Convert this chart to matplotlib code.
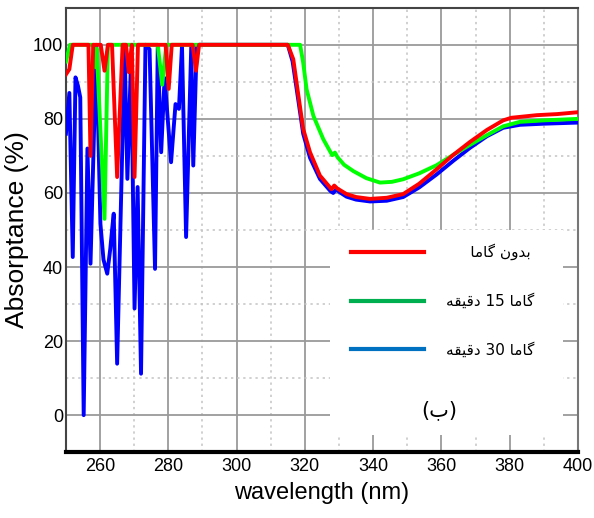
import numpy as np
import matplotlib.pyplot as plt
from matplotlib.lines import Line2D
from matplotlib.patches import Rectangle
from matplotlib.ticker import MultipleLocator

# Data
# -----------------------------------------------------------
# blue: gamma 30 min
wl_blue = [250, 251, 252, 252.8, 253.5, 254.2, 255.2, 256.3, 257.2, 258.9,
           260.1, 261, 262.1, 263, 263.5, 264, 265, 267.2, 268, 269.1,
           270.1, 271, 272, 273.3, 274.5, 276.1, 276.9, 277.9, 278.9, 280.8,
           282.1, 283.1, 284, 285.2, 286.7, 287.3, 288.3, 289, 315,
           316.4, 318, 319.5, 321.5, 324.4, 327.5, 328.3, 329.2, 330.2, 332.2,
           335, 339.1, 344, 348.8, 353.5, 358.6, 363.5, 368.4, 373.3, 378.1,
           383, 390, 400]
ab_blue = [76, 87, 42.7, 91.2, 89, 85.8, 0, 72, 40.9, 100,
           51.7, 42, 38.2, 45, 49.9, 54.4, 13.9, 99, 63.8, 96.6,
           28.8, 61.6, 11.2, 100, 98.8, 39.5, 99.3, 71, 91, 68.3,
           84, 82.7, 99.7, 48.1, 99.3, 67.4, 99.7, 100, 100,
           95.5, 85.5, 76, 69.5, 63.8, 60.5, 60, 61, 60.2, 59,
           58.2, 57.7, 57.9, 58.9, 61.5, 65, 68.7, 72.2, 75.3, 77.6,
           78.4, 78.7, 79]

# green: gamma 15 min
wl_green = [250, 251.2, 258, 258.4, 259, 261.3, 262.3, 276.9, 278.2, 279.4,
            318.6, 319.5, 320.5, 322.5, 325.4, 328, 328.8, 329.6, 331.5, 334.2,
            338, 342, 345.5, 348.8, 353.5, 358.6, 363.5, 368.4, 373.3, 378.1,
            383, 390, 400]
ab_green = [95.5, 100, 100, 94, 99, 53, 100, 100, 89.2, 100,
            100, 95.2, 88, 80.8, 74.5, 70.2, 70.9, 69.6, 67.6, 65.9,
            64, 62.8, 63, 63.7, 65.3, 67.5, 70.3, 73.0, 75.6, 78.0,
            79.2, 79.6, 80]

# red: no gamma
wl_red = [250, 251, 252, 256.6, 257.2, 258, 260.2, 261.3, 262.3, 263.5,
          265, 266.6, 267.6, 268.4, 269.3, 270.1, 271.1, 279.2, 280.1, 281,
          287.1, 288.1, 289, 315, 316.6, 318.1, 319.5, 321.5, 324.4, 327.8,
          328.6, 329.5, 332.2, 335, 339.1, 344, 348.8, 353.5, 358.6, 363.5,
          368.4, 373.3, 378.1, 380.5, 387.9, 394, 400]
ab_red = [92, 93.4, 100, 100, 70, 100, 100, 93, 100, 100,
          64.3, 100, 100, 92.6, 100, 64.3, 100, 100, 88.1, 100,
          100, 93, 100, 100, 96.1, 86.3, 77.3, 71, 64.7, 61,
          62, 61.2, 59.7, 58.9, 58.4, 58.7, 59.7, 62.5, 66.4, 70.3,
          73.8, 77, 79.6, 80.3, 81, 81.3, 81.8]

# legend labels (Persian, written in visual order with presentation forms)
# logical text: "بدون گاما", "گاما 15 دقیقه", "گاما 30 دقیقه", "(ب)"
lab_none = "\uFE8E\uFEE3\uFE8E\uFB94 \uFEE5\uFEED\uFEAA\uFE91"
lab_15 = "\uFEEA\uFED8\uFEF4\uFED7\uFEA9 15 \uFE8E\uFEE3\uFE8E\uFB94"
lab_30 = "\uFEEA\uFED8\uFEF4\uFED7\uFEA9 30 \uFE8E\uFEE3\uFE8E\uFB94"
panel = "(\uFE8F)"

x_ticks = [260, 280, 300, 320, 340, 360, 380, 400]
y_ticks = [0, 20, 40, 60, 80, 100]

# Plot
# -----------------------------------------------------------
fig = plt.figure(figsize=(5.94, 5.18), dpi=100)
ax = fig.add_axes([0.111, 0.127, 0.862, 0.858])

ax.plot(wl_blue, ab_blue, color='#0000ff', lw=2.8, zorder=3)
ax.plot(wl_green, ab_green, color='#00ff00', lw=2.8, zorder=4)
ax.plot(wl_red, ab_red, color='#ff0000', lw=2.8, zorder=5)

ax.set_xlim(250, 400)
ax.set_ylim(-10, 110)
ax.set_xticks(x_ticks)
ax.set_yticks(y_ticks)
ax.xaxis.set_minor_locator(MultipleLocator(10))
ax.yaxis.set_minor_locator(MultipleLocator(10))
ax.grid(which='major', color='#9a9a9a', lw=1.3, ls='-', zorder=1)
ax.grid(which='minor', color='#c4c4c4', lw=1.1, ls=(0, (1.5, 2.5)), zorder=1)
ax.tick_params(which='both', length=0, pad=2)
ax.tick_params(axis='x', pad=4)
for lbl in ax.get_xticklabels() + ax.get_yticklabels():
    lbl.set_fontfamily('Liberation Sans')
    lbl.set_fontsize(13)

ax.set_xlabel('wavelength (nm)', fontfamily='Liberation Sans',
              fontsize=17, labelpad=5)
ax.set_ylabel('Absorptance (%)', fontfamily='Liberation Sans',
              fontsize=19, labelpad=3)

for side in ['top', 'left', 'right']:
    ax.spines[side].set_color('#444444')
    ax.spines[side].set_linewidth(1.5)
ax.spines['right'].set_color('#777777')
ax.spines['bottom'].set_color('black')
ax.spines['bottom'].set_linewidth(3)

# white box behind legend
ax.add_patch(Rectangle((0.516, 0.038), 0.455, 0.462, transform=ax.transAxes,
                       facecolor='white', edgecolor='none', zorder=2))

handles = [Line2D([], [], color='#ff0000', lw=3),
           Line2D([], [], color='#00b050', lw=3),
           Line2D([], [], color='#0070c0', lw=3)]
leg = ax.legend(handles, ["     " + lab_none, lab_15, lab_30],
                loc='upper left', bbox_to_anchor=(0.53, 0.50),
                frameon=False, prop={'family': 'DejaVu Sans', 'size': 11},
                handlelength=4.8, handletextpad=1.4, labelspacing=2.15)
leg.set_zorder(6)

ax.text(0.73, 0.095, panel, transform=ax.transAxes, fontsize=15,
        family='DejaVu Sans', ha='center', va='center', zorder=6)

plt.savefig('out.png', dpi=100)
